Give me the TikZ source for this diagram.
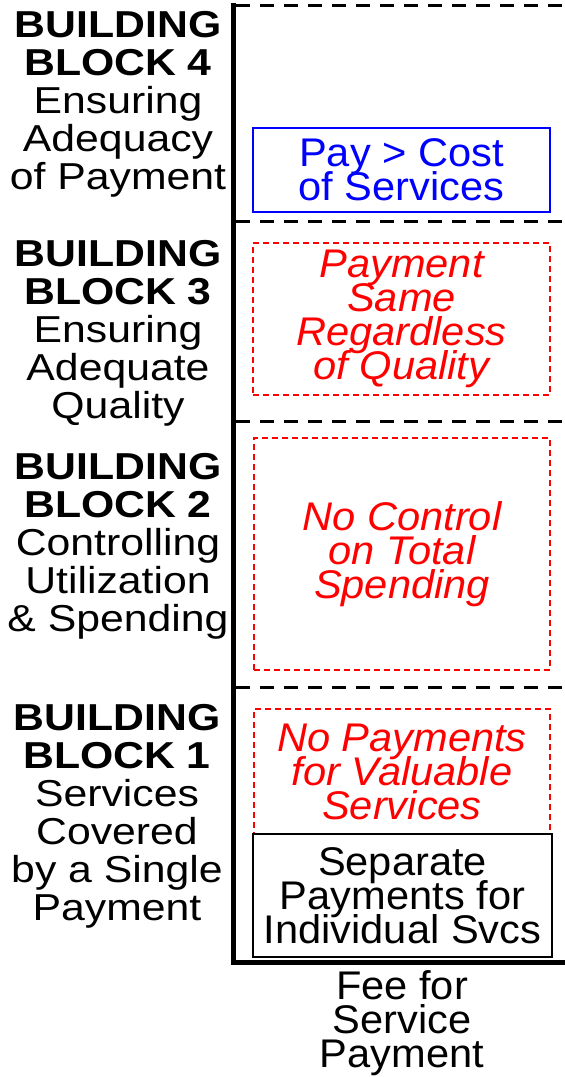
\documentclass[tikz,border=0pt]{standalone}
\usepackage{fontspec}
\setmainfont{Liberation Sans}
\newfontfamily\labfont[FakeStretch=1.14]{Liberation Sans}
\newfontfamily\boxfont[FakeStretch=1.04]{Liberation Sans}
\newcommand\tightlines{\lineskiplimit=-100pt\relax\lineskip=0pt\relax}
\begin{document}
\begin{tikzpicture}[x=1pt,y=-1pt,
  lab/.style={align=center, inner sep=0pt, font=\labfont\fontsize{37.5}{38}\selectfont\tightlines},
  boxtext/.style={align=center, inner sep=0pt, font=\boxfont\fontsize{40}{34}\selectfont\tightlines},
  bluebox/.style={boxtext, draw=blue, text=blue, line width=1.5pt},
  redbox/.style={boxtext, draw=red, text=red, line width=1.5pt, dash pattern=on 6pt off 4pt, font=\boxfont\fontsize{40}{34}\selectfont\itshape\tightlines},
  blackbox/.style={boxtext, draw=black, line width=1.5pt},
  divider/.style={line width=3pt, dash pattern=on 14pt off 10pt},
  axis/.style={line width=5pt, line join=miter}]
\useasboundingbox (0,0) rectangle (565,1077);
% dividers
\draw[divider] (236,5) -- (565,5);
\draw[divider] (236,221) -- (565,221);
\draw[divider] (236,421) -- (565,421);
\draw[divider] (236,687) -- (565,687);
% axes
\coordinate (ytop) at (233,3);
\coordinate (origin) at (233,962);
\coordinate (xend) at (565,962);
\draw[axis] (ytop) -- (origin) -- (xend);
% left labels
\node[lab] (l4) at (118,104.5) {\textbf{BUILDING}\\\textbf{BLOCK 4}\\Ensuring\\Adequacy\\of Payment};
\node[lab] (l3) at (118,333) {\textbf{BUILDING}\\\textbf{BLOCK 3}\\Ensuring\\Adequate\\Quality};
\node[lab] (l2) at (118,546.5) {\textbf{BUILDING}\\\textbf{BLOCK 2}\\Controlling\\Utilization\\\& Spending};
\node[lab] (l1) at (117,816.5) {\textbf{BUILDING}\\\textbf{BLOCK 1}\\Services\\Covered\\by a Single\\Payment};
% boxes
\node[bluebox, minimum width=297pt, minimum height=84pt] (b4) at (401.5,170) {Pay > Cost\\of Services};
\node[redbox, minimum width=297pt, minimum height=152pt] (b3) at (401.5,319) {Payment\\Same\\Regardless\\of Quality};
\node[redbox, minimum width=296pt, minimum height=232pt] (b2) at (402,554) {No Control\\on Total\\Spending};
\node[redbox, minimum width=296pt, minimum height=125pt] (b1) at (402,771.5) {No Payments\\for Valuable\\Services};
\node[blackbox, minimum width=299pt, minimum height=123pt] (b0) at (402.5,895.5) {Separate\\Payments for\\Individual Svcs};
% x-axis label
\node[boxtext] (xl) at (402,1023) {Fee for\\Service\\Payment};
\end{tikzpicture}
\end{document}
